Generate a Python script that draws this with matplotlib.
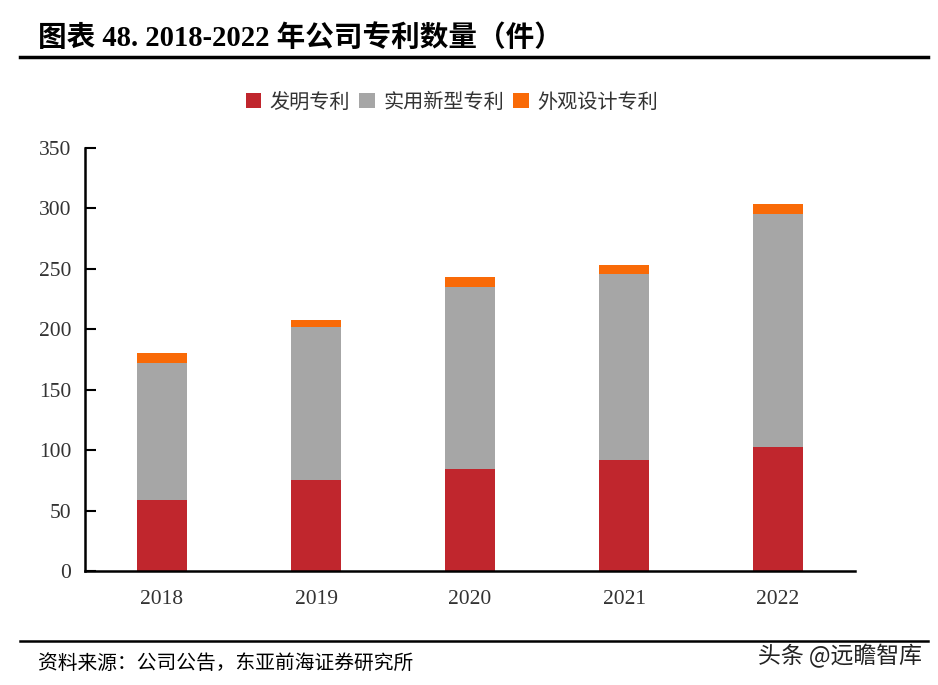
import matplotlib
matplotlib.use("Agg")
import matplotlib.pyplot as plt
from matplotlib.lines import Line2D

years = ["2018", "2019", "2020", "2021", "2022"]
invention = [59, 75, 84, 92, 103]
utility = [113, 127, 151, 154, 192]
design = [8, 6, 8, 7, 9]
series_names = ["发明专利", "实用新型专利", "外观设计专利"]
colors = ["#C0262D", "#A6A6A6", "#F96A07"]
yticks = [0, 50, 100, 150, 200, 250, 300, 350]

W, H = 938, 685
fig = plt.figure(figsize=(W / 100, H / 100), dpi=100)
ax = fig.add_axes([85 / W, (H - 571) / H, (855 - 85) / W, (571 - 148) / H])

serif = ["Liberation Serif", "Noto Sans CJK SC"]
cjk = ["Noto Sans CJK SC", "DejaVu Sans"]

x = list(range(len(years)))
bottom2 = [a + b for a, b in zip(invention, utility)]
b1 = ax.bar(x, invention, width=0.33, color=colors[0], label=series_names[0])
b2 = ax.bar(x, utility, width=0.33, bottom=invention, color=colors[1], label=series_names[1])
b3 = ax.bar(x, design, width=0.33, bottom=bottom2, color=colors[2], label=series_names[2])

ax.set_xlim(-0.5, 4.5)
ax.set_ylim(0, 350)
ax.set_yticks(yticks)
ax.set_yticklabels([str(v) for v in yticks], family=serif, fontsize=15.5, color="#333333")
ax.set_xticks(x)
ax.set_xticklabels(years, family=serif, fontsize=15.5, color="#333333")
ax.tick_params(axis="x", length=0, pad=14)
ax.tick_params(axis="y", direction="in", length=8, width=1.5, pad=10)
for s in ["top", "right"]:
    ax.spines[s].set_visible(False)
ax.spines["left"].set_linewidth(1.8)
ax.spines["bottom"].set_linewidth(1.8)

leg = fig.legend(handles=[b1, b2, b3], labels=series_names, loc="center",
                 bbox_to_anchor=(452 / W, (H - 102) / H), ncol=3, frameon=False,
                 prop={"family": cjk, "size": 14.5}, handlelength=0.75, handleheight=0.75,
                 handletextpad=0.45, columnspacing=0.45)
for t in leg.get_texts():
    t.set_color("#333333")

fig.text(38 / W, (H - 38) / H, "图表 48. 2018-2022 年公司专利数量（件）", family=serif,
         fontsize=20.6, fontweight="bold", va="center", ha="left", color="black")
fig.add_artist(Line2D([20 / W, 928 / W], [(H - 57) / H] * 2, color="black", lw=2.5))
fig.add_artist(Line2D([20 / W, 928 / W], [(H - 641) / H] * 2, color="black", lw=1.8))
fig.text(38 / W, (H - 663) / H, "资料来源：公司公告，东亚前海证券研究所", family=cjk,
         fontsize=14.2, va="center", ha="left", color="black")
fig.text(922 / W, (H - 656) / H, "头条 @远瞻智库", family=cjk,
         fontsize=16.5, va="center", ha="right", color="#222222")

fig.savefig("out.png", dpi=100, facecolor="white")
